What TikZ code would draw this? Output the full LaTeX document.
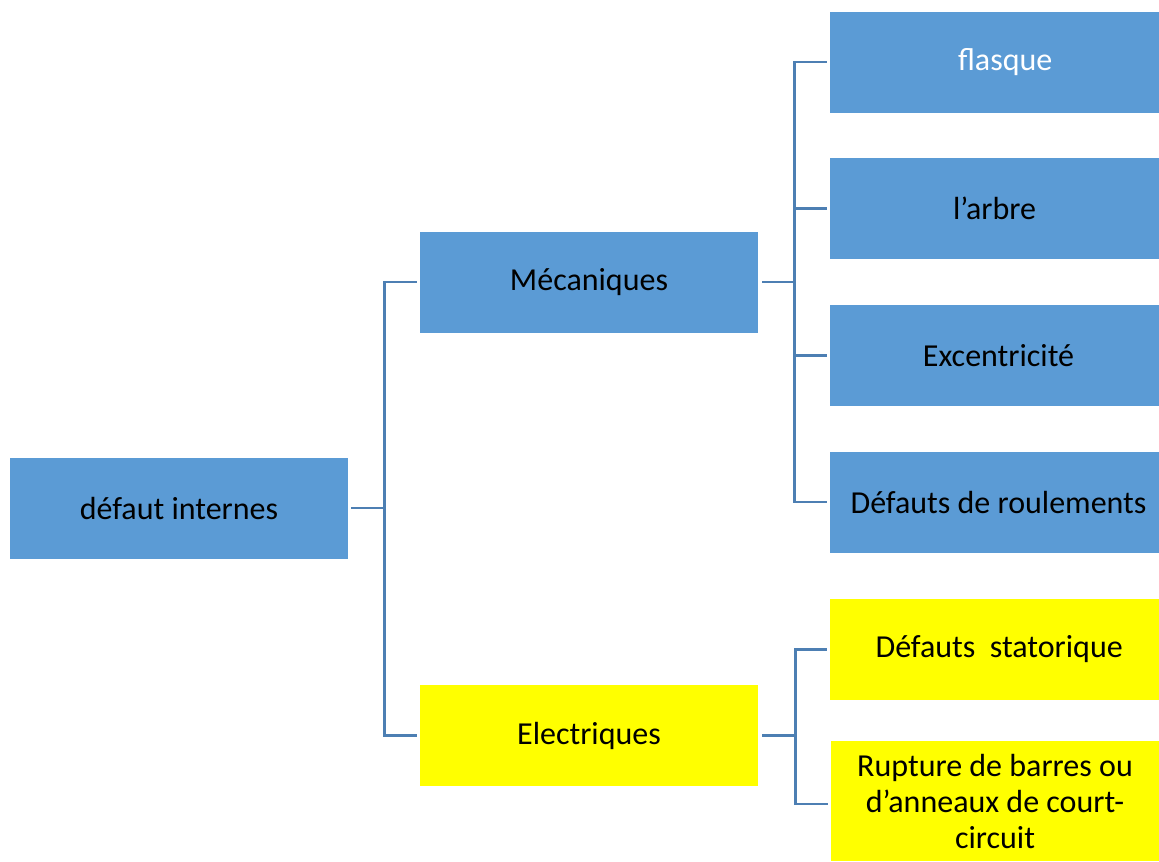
\documentclass[tikz,border=0pt]{standalone}
\usepackage{fontspec}
\setmainfont{Carlito}
\begin{document}
\begin{tikzpicture}[x=0.75pt,y=-0.75pt,
  box/.style={rectangle,inner sep=0pt,align=center,font=\fontsize{24pt}{27pt}\selectfont},
  bluebox/.style={box,fill=boxblue,text=black},
  yellowbox/.style={box,fill=boxyellow,text=black},
  wide/.style={minimum width=253.5pt,minimum height=75.75pt},
  leaf/.style={minimum width=246.75pt,minimum height=75.75pt},
  conn/.style={draw=linkblue,line width=1.9pt}]
\definecolor{boxblue}{HTML}{5B9BD5}
\definecolor{boxyellow}{HTML}{FFFF00}
\definecolor{linkblue}{HTML}{4D7FB3}
\useasboundingbox (0,0) rectangle (1159,861);

% level 0 and level 1
\node[bluebox,wide] (root) at (179,508) {défaut internes};
\node[bluebox,wide] (mec) at (589,282) {Mécaniques};
\node[yellowbox,wide] (ele) at (589,735.5) {Electriques};

% mechanical faults
\node[bluebox,leaf,text=white] (fla) at (994.5,62) {\hspace*{16pt}flasque};
\node[bluebox,leaf] (arb) at (994.5,208.5) {l’arbre};
\node[bluebox,leaf] (exc) at (994.5,355.5) {\hspace*{6pt}Excentricité};
\node[bluebox,leaf] (rou) at (994.5,502) {\hspace*{6pt}Défauts de roulements};

% electrical faults
\node[yellowbox,leaf] (sta) at (994.5,649.5) {\hspace*{7pt}Défauts\ \ statorique};
\node[yellowbox,minimum width=246pt,minimum height=90pt] (rup) at (995,801)
  {Rupture de barres ou\\d’anneaux de court-\\circuit};

% tree connectors
\draw[conn] ([xshift=2.25pt]root.east) -- ++(24.75pt,0) coordinate (j0)
  |- ([xshift=-2.25pt]mec.west);
\draw[conn] (j0) |- ([xshift=-2.25pt]ele.west);

\draw[conn] ([xshift=3pt]mec.east) -- ++(24pt,0) coordinate (j1)
  |- ([xshift=-2.25pt]fla.west);
\draw[conn] (j1) |- ([xshift=-2.25pt]arb.west);
\draw[conn] (j1) |- ([xshift=-2.25pt]exc.west);
\draw[conn] (j1) |- ([xshift=-2.25pt]rou.west);

\draw[conn] ([xshift=3pt]ele.east) -- ++(25pt,0) coordinate (j2)
  |- ([xshift=-2.25pt]sta.west);
\draw[conn] (j2) |- ([xshift=-2.25pt,yshift=-2.25pt]rup.west);
\end{tikzpicture}
\end{document}
